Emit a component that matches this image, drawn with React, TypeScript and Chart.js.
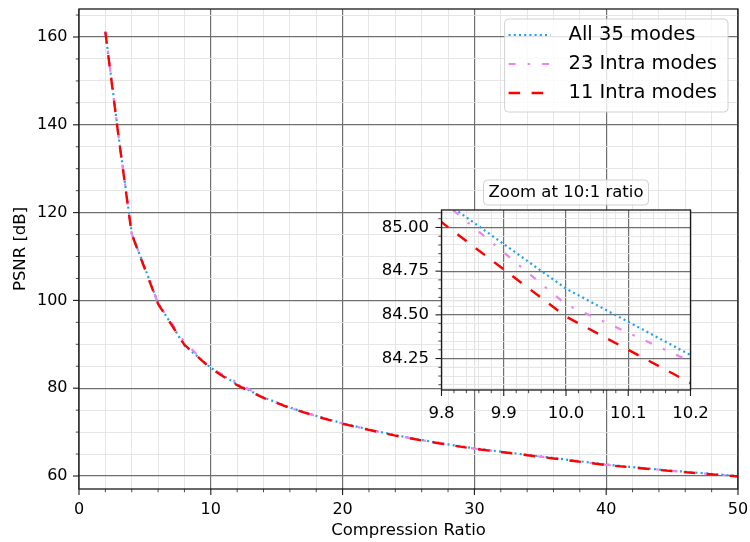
import React, { useEffect, useRef } from 'react';
import { Chart, registerables } from 'chart.js';

Chart.register(...registerables);

// ---------------- data ----------------
const compressionRatios = [2, 3, 4, 6, 8, 10, 12, 14, 16, 18, 20, 22, 24, 26, 28, 30, 33, 36, 40, 45, 50];
const psnrAll35 = [161.3, 137.5, 115.3, 99.4, 89.75, 84.65, 80.85, 77.9, 75.6, 73.7, 72.0, 70.6, 69.3, 68.2, 67.2, 66.3, 65.2, 64.1, 62.6, 61.2, 60.0];
const psnrIntra23 = [161.2, 137.4, 115.2, 99.3, 90.5, 84.56, 81.3, 77.85, 75.5, 73.65, 71.95, 70.55, 69.25, 68.15, 67.15, 66.25, 65.15, 64.05, 62.55, 61.15, 59.95];
const psnrIntra11 = [161.1, 137.3, 115.1, 99.2, 89.89, 84.49, 80.69, 77.8, 75.5, 73.6, 71.9, 70.5, 69.2, 68.1, 67.1, 66.2, 65.1, 64.0, 62.5, 61.1, 59.9];
const seriesNames = ['All 35 modes', '23 Intra modes', '11 Intra modes'];

const mainXMajorTicks = [0, 10, 20, 30, 40, 50];
const mainYMajorTicks = [60, 80, 100, 120, 140, 160];
const insetXMajorTicks = [9.8, 9.9, 10.0, 10.1, 10.2];
const insetYMajorTicks = [84.25, 84.5, 84.75, 85.0];

const xAxisTitle = 'Compression Ratio';
const yAxisTitle = 'PSNR [dB]';
const insetTitle = 'Zoom at 10:1 ratio';

// ---------------- styles ----------------
const FONT = "'DejaVu Sans', sans-serif";
const seriesStyles = [
  { color: '#1ea0f0', dash: [2, 3.2], width: 2.2, order: 3 },
  { color: '#ee82ee', dash: [7, 12, 2.5, 12], width: 2.2, order: 2 },
  { color: '#ff0000', dash: [11.5, 11.5], width: 2.4, order: 1 },
];

Chart.defaults.font.family = FONT;
Chart.defaults.color = '#000';

const near = (a: number, b: number) => Math.abs(a - b) < 1e-6;
const isMajor = (list: number[], v: any) => typeof v === 'number' && list.some((m) => near(m, v));
const onStep = (v: number, step: number) => {
  const r = v / step;
  return Math.abs(r - Math.round(r)) < 1e-6;
};

function buildDatasets(clip?: number) {
  const ys = [psnrAll35, psnrIntra23, psnrIntra11];
  return ys.map((arr, i) => ({
    label: seriesNames[i],
    data: compressionRatios.map((x, j) => ({ x, y: arr[j] })),
    borderColor: seriesStyles[i].color,
    backgroundColor: seriesStyles[i].color,
    borderDash: seriesStyles[i].dash,
    borderWidth: seriesStyles[i].width,
    borderCapStyle: 'butt' as const,
    pointRadius: 0,
    fill: false,
    tension: 0,
    order: seriesStyles[i].order,
    ...(clip !== undefined ? { clip } : {}),
  }));
}

function makeScale(o: {
  min: number; max: number; step: number; majors: number[]; fmt: (v: number) => string;
  size: number; isX: boolean; padding: number; fontSize: number; title?: any;
}) {
  return {
    type: 'linear' as const,
    min: o.min,
    max: o.max,
    afterFit: (s: any) => {
      if (o.isX) s.height = o.size;
      else s.width = o.size;
      s.paddingLeft = 0;
      s.paddingRight = 0;
      s.paddingTop = 0;
      s.paddingBottom = 0;
    },
    border: { display: false },
    grid: {
      drawTicks: false,
      color: (c: any) => {
        const v = c.tick ? c.tick.value : undefined;
        if (v === undefined || !onStep(v, o.step)) return 'rgba(0,0,0,0)';
        return isMajor(o.majors, v) ? '#707070' : '#e3e3e3';
      },
      lineWidth: (c: any) => (c.tick && isMajor(o.majors, c.tick.value) ? 1.2 : 0.9),
    },
    ticks: {
      stepSize: o.step,
      autoSkip: false,
      includeBounds: false,
      maxRotation: 0,
      minRotation: 0,
      padding: o.padding,
      color: '#000',
      font: { size: o.fontSize, family: FONT },
      callback: (v: any) => (isMajor(o.majors, v) ? o.fmt(v) : ''),
    },
    title: o.title || { display: false },
  };
}

function decorPlugin(steps: { x: number; y: number }, majors: { x: number[]; y: number[] }, face?: string) {
  return {
    id: 'decor',
    beforeDraw(chart: any) {
      if (!face) return;
      const { ctx, chartArea: a } = chart;
      ctx.save();
      ctx.fillStyle = face;
      ctx.fillRect(a.left, a.top, a.right - a.left, a.bottom - a.top);
      ctx.restore();
    },
    afterDraw(chart: any) {
      const { ctx, chartArea: a } = chart;
      const xs = chart.scales.x;
      const ys = chart.scales.y;
      ctx.save();
      ctx.strokeStyle = '#1a1a1a';
      xs.ticks.forEach((t: any) => {
        if (!onStep(t.value, steps.x)) return;
        const maj = isMajor(majors.x, t.value);
        const p = xs.getPixelForValue(t.value);
        ctx.lineWidth = maj ? 1.1 : 0.8;
        ctx.beginPath();
        ctx.moveTo(p, a.bottom);
        ctx.lineTo(p, a.bottom + (maj ? 6 : 3.2));
        ctx.stroke();
      });
      ys.ticks.forEach((t: any) => {
        if (!onStep(t.value, steps.y)) return;
        const maj = isMajor(majors.y, t.value);
        const p = ys.getPixelForValue(t.value);
        ctx.lineWidth = maj ? 1.1 : 0.8;
        ctx.beginPath();
        ctx.moveTo(a.left, p);
        ctx.lineTo(a.left - (maj ? 6 : 3.2), p);
        ctx.stroke();
      });
      ctx.lineWidth = 1.3;
      ctx.strokeRect(a.left, a.top, a.right - a.left, a.bottom - a.top);
      ctx.restore();
    },
  };
}

function roundRectPath(ctx: CanvasRenderingContext2D, x: number, y: number, w: number, h: number, r: number) {
  ctx.beginPath();
  ctx.moveTo(x + r, y);
  ctx.arcTo(x + w, y, x + w, y + h, r);
  ctx.arcTo(x + w, y + h, x, y + h, r);
  ctx.arcTo(x, y + h, x, y, r);
  ctx.arcTo(x, y, x + w, y, r);
  ctx.closePath();
}

const boxLegendPlugin = {
  id: 'boxLegend',
  afterDraw(chart: any) {
    const { ctx, chartArea: a } = chart;
    const ds = chart.data.datasets;
    ctx.save();
    ctx.font = `19.5px ${FONT}`;
    const maxW = Math.max(...ds.map((d: any) => ctx.measureText(d.label).width));
    const right = a.right - 10;
    const top = a.top + 10;
    const w = 64 + maxW + 11;
    const left = right - w;
    const rowH = 29;
    const h = rowH * ds.length + 6;
    roundRectPath(ctx, left, top, w, h, 4);
    ctx.fillStyle = 'rgba(255,255,255,0.8)';
    ctx.fill();
    ctx.strokeStyle = 'rgba(204,204,204,0.9)';
    ctx.lineWidth = 1;
    ctx.stroke();
    ds.forEach((d: any, i: number) => {
      const cy = top + 16 + i * rowH;
      ctx.save();
      ctx.setLineDash(d.borderDash || []);
      ctx.strokeStyle = d.borderColor;
      ctx.lineWidth = d.borderWidth;
      ctx.lineCap = 'butt';
      ctx.beginPath();
      ctx.moveTo(left + 4, cy);
      ctx.lineTo(left + 46, cy);
      ctx.stroke();
      ctx.restore();
      ctx.fillStyle = '#000';
      ctx.textBaseline = 'middle';
      ctx.textAlign = 'left';
      ctx.fillText(d.label, left + 64, cy);
    });
    ctx.restore();
  },
};

const insetTitlePlugin = {
  id: 'insetTitle',
  afterDraw(chart: any) {
    const { ctx, chartArea: a } = chart;
    ctx.save();
    ctx.font = `16.5px ${FONT}`;
    const tw = ctx.measureText(insetTitle).width;
    const cx = (a.left + a.right) / 2;
    const bw = tw + 10;
    const bh = 25;
    const by = a.top - 5 - bh;
    roundRectPath(ctx, cx - bw / 2, by, bw, bh, 4);
    ctx.fillStyle = 'rgba(255,255,255,0.8)';
    ctx.fill();
    ctx.strokeStyle = 'rgba(204,204,204,0.9)';
    ctx.lineWidth = 1;
    ctx.stroke();
    ctx.fillStyle = '#000';
    ctx.textAlign = 'center';
    ctx.textBaseline = 'middle';
    ctx.fillText(insetTitle, cx, by + bh / 2);
    ctx.restore();
  },
};

export default function App() {
  const mainRef = useRef<HTMLCanvasElement>(null);
  const insetRef = useRef<HTMLCanvasElement>(null);

  useEffect(() => {
    const main = new Chart(mainRef.current as HTMLCanvasElement, {
      type: 'line',
      data: { datasets: buildDatasets() as any },
      options: {
        responsive: false,
        animation: false,
        events: [],
        layout: { padding: { top: 9, right: 12, left: 0, bottom: 0 } },
        plugins: { legend: { display: false }, tooltip: { enabled: false }, title: { display: false } },
        scales: {
          x: makeScale({
            min: 0, max: 50, step: 2, majors: mainXMajorTicks, fmt: (v) => String(v),
            size: 53, isX: true, padding: 11, fontSize: 16,
            title: { display: true, text: xAxisTitle, color: '#000', font: { size: 16.5, family: FONT }, padding: { top: 0, bottom: 1 } },
          }),
          y: makeScale({
            min: 57.04, max: 166.38, step: 5, majors: mainYMajorTicks, fmt: (v) => String(v),
            size: 79, isX: false, padding: 11.5, fontSize: 16,
            title: { display: true, text: yAxisTitle, color: '#000', font: { size: 16.5, family: FONT }, padding: { top: 10.4, bottom: 0 } },
          }),
        } as any,
      },
      plugins: [decorPlugin({ x: 2, y: 5 }, { x: mainXMajorTicks, y: mainYMajorTicks }), boxLegendPlugin],
    });

    const inset = new Chart(insetRef.current as HTMLCanvasElement, {
      type: 'line',
      data: { datasets: buildDatasets(0) as any },
      options: {
        responsive: false,
        animation: false,
        events: [],
        layout: { padding: { top: 40, right: 29.5, left: 0, bottom: 0 } },
        plugins: { legend: { display: false }, tooltip: { enabled: false }, title: { display: false } },
        scales: {
          x: makeScale({
            min: 9.8, max: 10.2, step: 0.02, majors: insetXMajorTicks, fmt: (v) => v.toFixed(1),
            size: 30, isX: true, padding: 13.5, fontSize: 16.5,
          }),
          y: makeScale({
            min: 84.07, max: 85.1, step: 0.05, majors: insetYMajorTicks, fmt: (v) => v.toFixed(2),
            size: 81.5, isX: false, padding: 12.5, fontSize: 16.5,
          }),
        } as any,
      },
      plugins: [decorPlugin({ x: 0.02, y: 0.05 }, { x: insetXMajorTicks, y: insetYMajorTicks }, 'rgba(255,255,255,0.8)'), insetTitlePlugin],
    });

    return () => {
      main.destroy();
      inset.destroy();
    };
  }, []);

  return (
    <div style={{ position: 'absolute', left: 0, top: 0, width: 750, height: 542, background: '#fff' }}>
      <canvas ref={mainRef} width={750} height={542} style={{ position: 'absolute', left: 0, top: 0 }} />
      <canvas ref={insetRef} width={360} height={250} style={{ position: 'absolute', left: 360, top: 170 }} />
    </div>
  );
}
